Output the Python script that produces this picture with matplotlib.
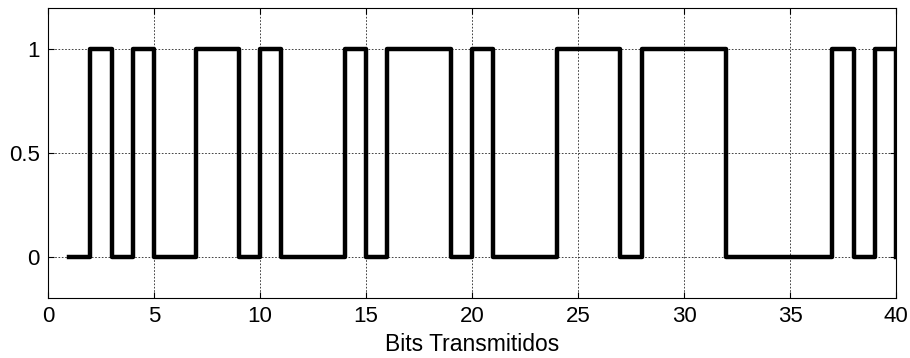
import matplotlib
matplotlib.use('Agg')
import matplotlib.pyplot as plt
import numpy as np

plt.rcParams['font.family'] = ['Liberation Sans', 'DejaVu Sans']

# bit index and transmitted bit value
bit_pos = np.arange(1, 41)
bits = [0, 1, 0, 1, 0, 0, 1, 1, 0, 1,
        0, 0, 0, 1, 0, 1, 1, 1, 0, 1,
        0, 0, 0, 1, 1, 1, 0, 1, 1, 1,
        1, 0, 0, 0, 0, 0, 1, 0, 1, 0]

x_ticks = [0, 5, 10, 15, 20, 25, 30, 35, 40]
y_ticks = [0, 0.5, 1]
y_tick_labels = ['0', '0.5', '1']

fig = plt.figure(figsize=(9.1, 3.58), dpi=100)
ax = fig.add_axes([0.0527, 0.1676, 0.932, 0.81])

ax.step(bit_pos, bits, where='post', color='k', linewidth=3.2)

ax.set_xlim(0, 40)
ax.set_ylim(-0.2, 1.2)
ax.set_xticks(x_ticks)
ax.set_yticks(y_ticks)
ax.set_yticklabels(y_tick_labels)
ax.tick_params(direction='in', top=True, right=True, length=4, width=0.8,
               labelsize=16, pad=6)
ax.grid(True, color='#222222', linestyle=(0, (2, 2)), linewidth=0.6)
for s in ax.spines.values():
    s.set_linewidth(0.8)
ax.set_xlabel('Bits Transmitidos', fontsize=16.5, labelpad=4)

fig.savefig('out.png', dpi=100)
